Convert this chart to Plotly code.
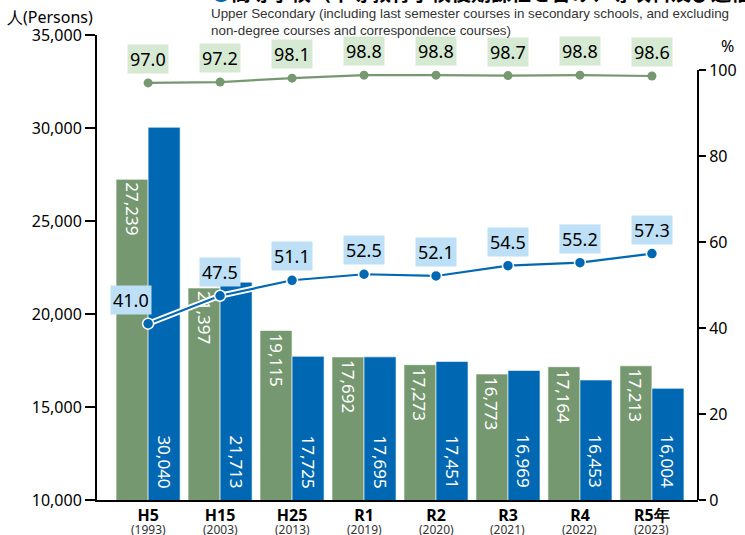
import plotly.graph_objects as go

categories = ["H5", "H15", "H25", "R1", "R2", "R3", "R4", "R5年"]
years = ["(1993)", "(2003)", "(2013)", "(2019)", "(2020)", "(2021)", "(2022)", "(2023)"]
green_bars = [27239, 21397, 19115, 17692, 17273, 16773, 17164, 17213]
blue_bars = [30040, 21713, 17725, 17695, 17451, 16969, 16453, 16004]
green_pct = [97.0, 97.2, 98.1, 98.8, 98.8, 98.7, 98.8, 98.6]
blue_pct = [41.0, 47.5, 51.1, 52.5, 52.1, 54.5, 55.2, 57.3]

GREEN = "#769870"
BLUE = "#0068b3"
GREEN_BG = "#d6ead3"
BLUE_BG = "#bde0f6"
FONT = "Noto Sans"

x = list(range(len(categories)))

fig = go.Figure()
fig.add_trace(go.Bar(
    x=x, y=green_bars, marker=dict(color=GREEN, line=dict(color="white", width=0.6)),
    text=[f"{v:,}" for v in green_bars], textposition="inside", textangle=90,
    insidetextanchor="end", insidetextfont=dict(color="white", size=17, family=FONT),
    hoverinfo="skip", showlegend=False))
fig.add_trace(go.Bar(
    x=x, y=blue_bars, marker=dict(color=BLUE, line=dict(color="white", width=0.6)),
    hoverinfo="skip", showlegend=False))

# green line
fig.add_trace(go.Scatter(x=x, y=green_pct, yaxis="y2", mode="lines+markers",
                         line=dict(color=GREEN, width=2.2),
                         marker=dict(color=GREEN, size=9), showlegend=False))
# blue line with white outline
fig.add_trace(go.Scatter(x=x, y=blue_pct, yaxis="y2", mode="lines",
                         line=dict(color="white", width=6), showlegend=False))
fig.add_trace(go.Scatter(x=x, y=blue_pct, yaxis="y2", mode="lines+markers",
                         line=dict(color=BLUE, width=2.2),
                         marker=dict(color=BLUE, size=11, line=dict(color="white", width=1.5)),
                         showlegend=False))

W, H = 745, 535
L, R, T, B = 97, 47, 35, 35
pw, ph = W - L - R, H - T - B

def py(p):
    return 1 - (p - T) / ph

def px(p):
    return (p - L) / pw

annotations = []
# blue bar value labels (rotated, anchored at the bar base)
for i, v in enumerate(blue_bars):
    annotations.append(dict(x=i, y=10000, xref="x", yref="y", text=f"{v:,}", showarrow=False,
                            textangle=90, xshift=16, yshift=10, xanchor="center", yanchor="bottom",
                            font=dict(size=17, color="white", family=FONT)))
for i, v in enumerate(green_pct):
    annotations.append(dict(x=i, y=v, xref="x", yref="y2", text=f"{v:.1f}", showarrow=False,
                            yshift=24, bgcolor=GREEN_BG, borderpad=2,
                            font=dict(size=18, color="black", family=FONT)))
for i, v in enumerate(blue_pct):
    annotations.append(dict(x=i, y=v, xref="x", yref="y2", text=f"{v:.1f}", showarrow=False,
                            yshift=24, xshift=-17 if i == 0 else 0,
                            bgcolor=BLUE_BG, borderpad=2,
                            font=dict(size=18, color="black", family=FONT)))
for i, yr in enumerate(years):
    annotations.append(dict(x=i, y=py(529), xref="x", yref="paper", text=yr, showarrow=False,
                            xanchor="center", yanchor="middle",
                            font=dict(size=12, color="#333333", family=FONT)))

annotations += [
    dict(x=px(5), y=py(17), xref="paper", yref="paper", text="人(Persons)", showarrow=False,
         xanchor="left", yanchor="middle", font=dict(size=16, color="black", family=FONT)),
    dict(x=px(727), y=py(46), xref="paper", yref="paper", text="%", showarrow=False,
         xanchor="center", yanchor="middle",
         font=dict(size=16, color="black", family=FONT)),
    dict(x=px(209), y=py(22), xref="paper", yref="paper",
         text="Upper Secondary (including last semester courses in secondary schools, and excluding<br>non-degree courses and correspondence courses)",
         showarrow=False, xanchor="left", yanchor="middle", align="left",
         font=dict(size=13.4, color="#333333", family="Liberation Sans")),
    dict(x=px(209), y=py(-7), xref="paper", yref="paper",
         text="<span style='color:#0068b3'>●</span><b>高等学校（中等教育学校後期課程を含み、専攻科及び通信制を除く）</b>",
         showarrow=False, xanchor="left", yanchor="middle", align="left",
         font=dict(size=20, color="black", family="Noto Sans CJK JP")),
]

ticktext = [f"<b>{c}</b>" for c in categories]

fig.update_layout(
    width=W, height=H, margin=dict(l=L, r=R, t=T, b=B, autoexpand=False),
    paper_bgcolor="white", plot_bgcolor="white",
    barmode="group", bargap=0.11, bargroupgap=0,
    font=dict(family=FONT, color="black"),
    xaxis=dict(tickmode="array", tickvals=x, ticktext=ticktext, range=[-0.71, 7.64],
               showline=True, linecolor="black", linewidth=2, ticks="", automargin=False,
               tickfont=dict(size=16), showgrid=False, zeroline=False),
    yaxis=dict(range=[10000, 35000], tickvals=[10000, 15000, 20000, 25000, 30000, 35000],
               tickformat=",", showline=True, linecolor="black", linewidth=2, automargin=False,
               ticks="outside", ticklen=10, tickwidth=2, tickcolor="black",
               tickfont=dict(size=16), showgrid=False, zeroline=False),
    yaxis2=dict(overlaying="y", side="right", range=[0, 100 * 465 / 430], automargin=False,
                tickvals=[0, 20, 40, 60, 80, 100], showline=False,
                ticks="outside", ticklen=7, tickwidth=2, tickcolor="black",
                tickfont=dict(size=16), showgrid=False, zeroline=False),
    annotations=annotations,
    shapes=[dict(type="line", xref="paper", yref="y2", x0=1, x1=1, y0=0, y1=100,
                 line=dict(color="black", width=2))],
)

fig.write_html("out.html", config={"displayModeBar": False},
               post_script="document.body.style.margin='0';document.body.style.overflow='hidden';")
